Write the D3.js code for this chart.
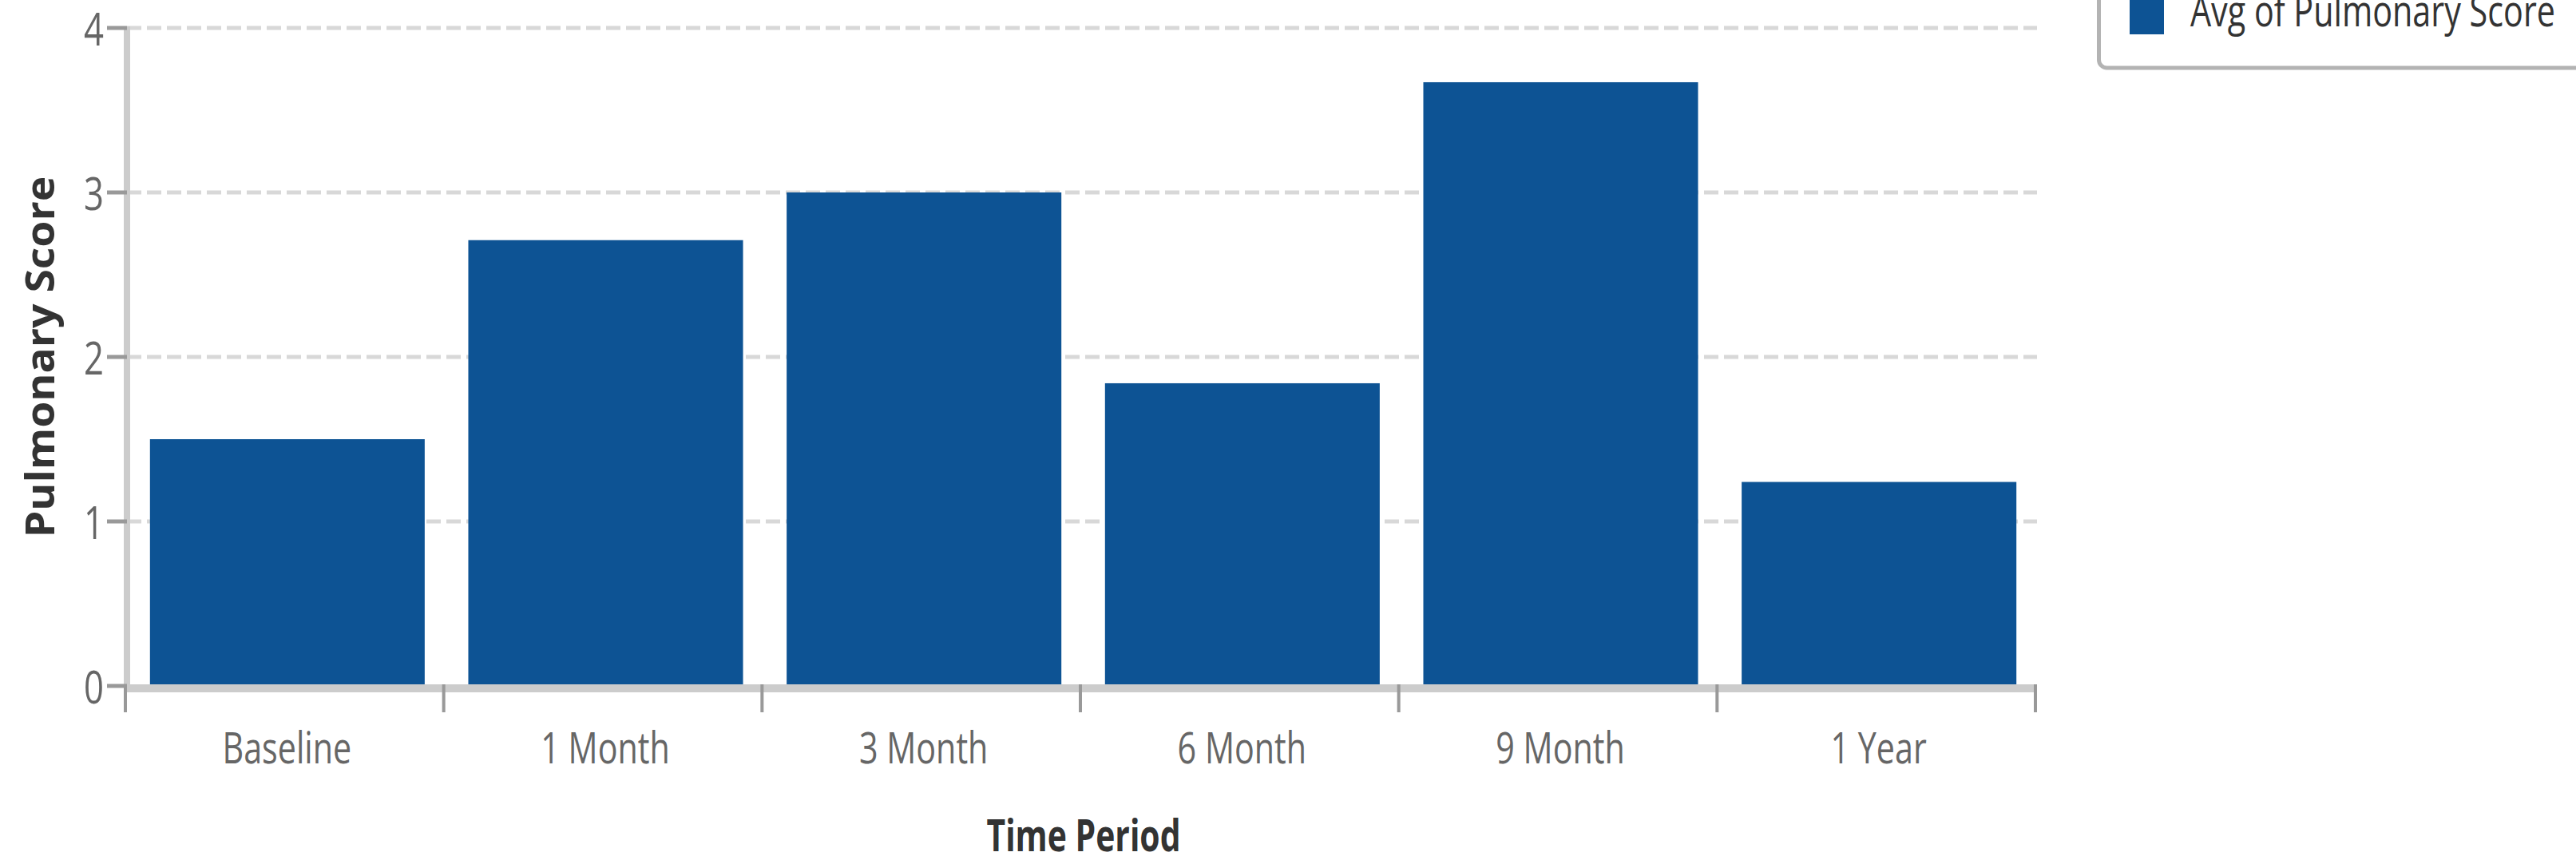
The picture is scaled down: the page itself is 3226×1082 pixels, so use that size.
<!DOCTYPE html>
<html>
<head>
<meta charset="utf-8">
<script src="https://cdn.jsdelivr.net/npm/d3@7"></script>
<style>
	html, body { margin: 0; padding: 0; background: #fff; overflow: hidden; }
	svg { display: block; font-family: 'Open Sans', sans-serif; }
</style>
</head>
<body>
<svg id="chart" width="3226" height="1082"></svg>
<script>
'use strict'

const periods = ['Baseline', '1 Month', '3 Month', '6 Month', '9 Month', '1 Year']
const pulmonaryScores = [1.5, 2.71, 3.0, 1.84, 3.67, 1.24]
const yTicks = [0, 1, 2, 3, 4]
const seriesName = 'Avg of Pulmonary Score'
const xTitle = 'Time Period'
const yTitle = 'Pulmonary Score'

const barColor = '#0d5394'
const squeeze = 0.75 // the labels in the picture are drawn narrow

const svg = d3.select('#chart')

const plot = { left: 157, right: 2549, top: 35, bottom: 859 }

// band scale without padding: category boundaries carry the ticks
const x = d3.scaleBand()
	.domain(periods)
	.range([plot.left, plot.right])

const bars = d3.scaleBand()
	.domain(periods)
	.range([plot.left + 3.5, plot.right + 3.5])
	.paddingInner(0.137)
	.paddingOuter(0.0685)

const y = d3.scaleLinear()
	.domain([0, 4])
	.range([plot.bottom, plot.top])

// gridlines
svg.append('g')
	.selectAll('line')
	.data(yTicks.filter((d) => d > 0))
	.enter()
	.append('line')
	.attr('x1', plot.left + 2)
	.attr('x2', plot.right + 2)
	.attr('y1', (d) => y(d))
	.attr('y2', (d) => y(d))
	.attr('stroke', '#d8d8d8')
	.attr('stroke-width', 5)
	.attr('stroke-dasharray', '18,7')

// bars
svg.append('g')
	.selectAll('rect')
	.data(periods)
	.enter()
	.append('rect')
	.attr('x', (d) => bars(d))
	.attr('width', bars.bandwidth())
	.attr('y', (d, i) => y(pulmonaryScores[i]))
	.attr('height', (d, i) => y(0) - 2 - y(pulmonaryScores[i]))
	.attr('fill', barColor)

// y axis
const yAxis = svg.append('g')
yAxis.append('line')
	.attr('x1', plot.left + 2)
	.attr('x2', plot.left + 2)
	.attr('y1', y(4) - 2)
	.attr('y2', y(0) + 8)
	.attr('stroke', '#cccccc')
	.attr('stroke-width', 8)

yAxis.selectAll('.tick')
	.data(yTicks)
	.enter()
	.append('line')
	.attr('class', 'tick')
	.attr('x1', plot.left - 23)
	.attr('x2', plot.left + 2)
	.attr('y1', (d) => y(d))
	.attr('y2', (d) => y(d))
	.attr('stroke', '#999999')
	.attr('stroke-width', 5)

yAxis.selectAll('.label')
	.data(yTicks)
	.enter()
	.append('g')
	.attr('class', 'label')
	.attr('transform', (d) => `translate(130,${y(d) + 22})`)
	.append('text')
	.attr('transform', `scale(0.78,1)`)
	.attr('text-anchor', 'end')
	.attr('font-size', 56)
	.attr('fill', '#666666')
	.text((d) => d)

// x axis
const xAxis = svg.append('g')
xAxis.append('line')
	.attr('x1', plot.left - 2)
	.attr('x2', plot.right + 2)
	.attr('y1', y(0) + 3)
	.attr('y2', y(0) + 3)
	.attr('stroke', '#cccccc')
	.attr('stroke-width', 10)

const boundaries = periods.map((p) => x(p)).concat([x(periods[periods.length - 1]) + x.bandwidth()])
xAxis.selectAll('.tick')
	.data(boundaries)
	.enter()
	.append('line')
	.attr('class', 'tick')
	.attr('x1', (d) => d)
	.attr('x2', (d) => d)
	.attr('y1', y(0) - 2)
	.attr('y2', y(0) + 33)
	.attr('stroke', '#999999')
	.attr('stroke-width', 4)

xAxis.selectAll('.label')
	.data(periods)
	.enter()
	.append('g')
	.attr('class', 'label')
	.attr('transform', (d) => `translate(${x(d) + x.bandwidth() / 2 + 3},956)`)
	.append('text')
	.attr('transform', `scale(${squeeze},1)`)
	.attr('text-anchor', 'middle')
	.attr('font-size', 55)
	.attr('fill', '#666666')
	.text((d) => d)

// axis titles
svg.append('g')
	.attr('transform', `translate(${(plot.left + plot.right) / 2 + 4},1066)`)
	.append('text')
	.attr('transform', `scale(0.73,1)`)
	.attr('text-anchor', 'middle')
	.attr('font-size', 56)
	.attr('font-weight', 'bold')
	.attr('fill', '#333333')
	.text(xTitle)

svg.append('g')
	.attr('transform', `translate(68,${(plot.top + plot.bottom) / 2}) rotate(-90)`)
	.append('text')
	.attr('transform', `scale(1.07,1)`)
	.attr('text-anchor', 'middle')
	.attr('font-size', 50)
	.attr('font-weight', 'bold')
	.attr('fill', '#333333')
	.text(yTitle)

// legend, partly outside the top right corner
const legend = svg.append('g')
legend.append('rect')
	.attr('x', 2628.5)
	.attr('y', -60)
	.attr('width', 700)
	.attr('height', 145)
	.attr('rx', 10)
	.attr('fill', '#ffffff')
	.attr('stroke', '#b3b3b3')
	.attr('stroke-width', 5)

legend.append('rect')
	.attr('x', 2667)
	.attr('y', 0)
	.attr('width', 43)
	.attr('height', 43)
	.attr('fill', barColor)

legend.append('g')
	.attr('transform', 'translate(2743,33)')
	.append('text')
	.attr('transform', `scale(0.765,1)`)
	.attr('font-size', 54)
	.attr('fill', '#333333')
	.text(seriesName)
</script>
</body>
</html>
